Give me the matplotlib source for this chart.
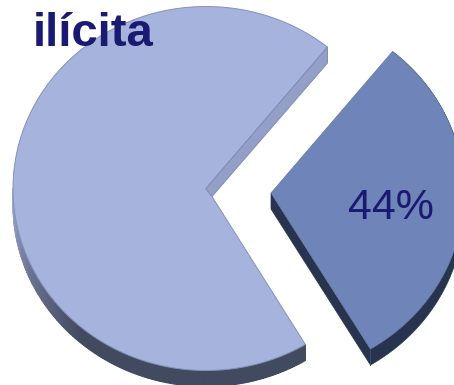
import numpy as np
import matplotlib
matplotlib.use("Agg")
import matplotlib.pyplot as plt
from matplotlib.colors import to_rgb

title = "ilícita"
share_labels = ["44%"]
share = 44

# pie is tilted, so it is drawn as an ellipse in pixel units
cx, cy = 206, 188.5
rx, ry = 193, 182
depth = 16
explode = (65, 4.5)
start_angle = 51
deg_per_pct = 2.5   # sweep of the pulled out slice per percent

sweep = share * deg_per_pct
a_top = start_angle
a_bot = start_angle - sweep


def arc(a1, a2, dx=0, dy=0, n=200):
    t = np.radians(np.linspace(a1, a2, n))
    return cx + dx + rx * np.cos(t), cy + dy - ry * np.sin(t)


fig = plt.figure(figsize=(4.54, 3.85), dpi=100)
ax = fig.add_axes([0, 0, 1, 1])
ax.set_xlim(0, 454)
ax.set_ylim(385, 0)
ax.axis("off")

# rim of the big slice, light at the left and dark towards the bottom
big_start = a_top
big_end = a_bot + 360
rim_a = np.linspace(180, big_end, 160)
rim_light = np.array(to_rgb("#a3aed2"))
rim_mid = np.array(to_rgb("#6b7394"))
rim_dark = np.array(to_rgb("#424a60"))
for a0, a1 in zip(rim_a[:-1], rim_a[1:]):
    x0, y0 = arc(a0, a1, n=6)
    x1, y1 = arc(a1, a0, dy=depth, n=6)
    f = (a0 - 180) / 50
    if f < 0.5:
        c = rim_light + (rim_mid - rim_light) * f * 2
    elif f < 1:
        c = rim_mid + (rim_dark - rim_mid) * (f - 0.5) * 2
    else:
        c = rim_dark
    ax.fill(np.r_[x0, x1], np.r_[y0, y1], fc=c, ec=c, lw=0.8)

# top of the big slice
bx, by = arc(big_start, big_end)
ax.fill(np.r_[bx, cx + 6, cx], np.r_[by, cy + 8, cy], fc="#a6b3dc", ec="#8391bb", lw=0.7)

# inner wall along the upper cut
ax.fill([cx, bx[0], bx[0], cx + 6], [cy, by[0], by[0] + depth, cy + 8],
        fc="#939fc6", ec="#7f8db6", lw=0.7)

# pulled out slice: cut wall, rim and then the top
ex, ey = explode
sx, sy = arc(a_top, a_bot, dx=ex, dy=ey)
ax.fill([cx + ex, sx[-1], sx[-1], cx + ex],
        [cy + ey, sy[-1], sy[-1] + depth, cy + ey + depth],
        fc="#27334f", ec="#27334f", lw=0.5)
ax.fill(np.r_[sx, sx[::-1]], np.r_[sy, sy[::-1] + depth],
        fc="#27334f", ec="#27334f", lw=0.5)
ax.fill(np.r_[cx + ex, sx], np.r_[cy + ey, sy], fc="#6f84b8", ec="#65799f", lw=0.5)
ax.plot([sx[-1], sx[-1]], [sy[-1], sy[-1] + depth], color="#3c4a6c", lw=0.7)

ax.text(390.5, 208, share_labels[0], fontsize=31, color="#1a1a72",
        family="Liberation Sans", ha="center", va="center")
ax.text(93, 34, title, fontsize=34, fontweight="bold", color="#1a1a72",
        family="Liberation Sans", ha="center", va="center")

fig.savefig("out.png", dpi=100)
